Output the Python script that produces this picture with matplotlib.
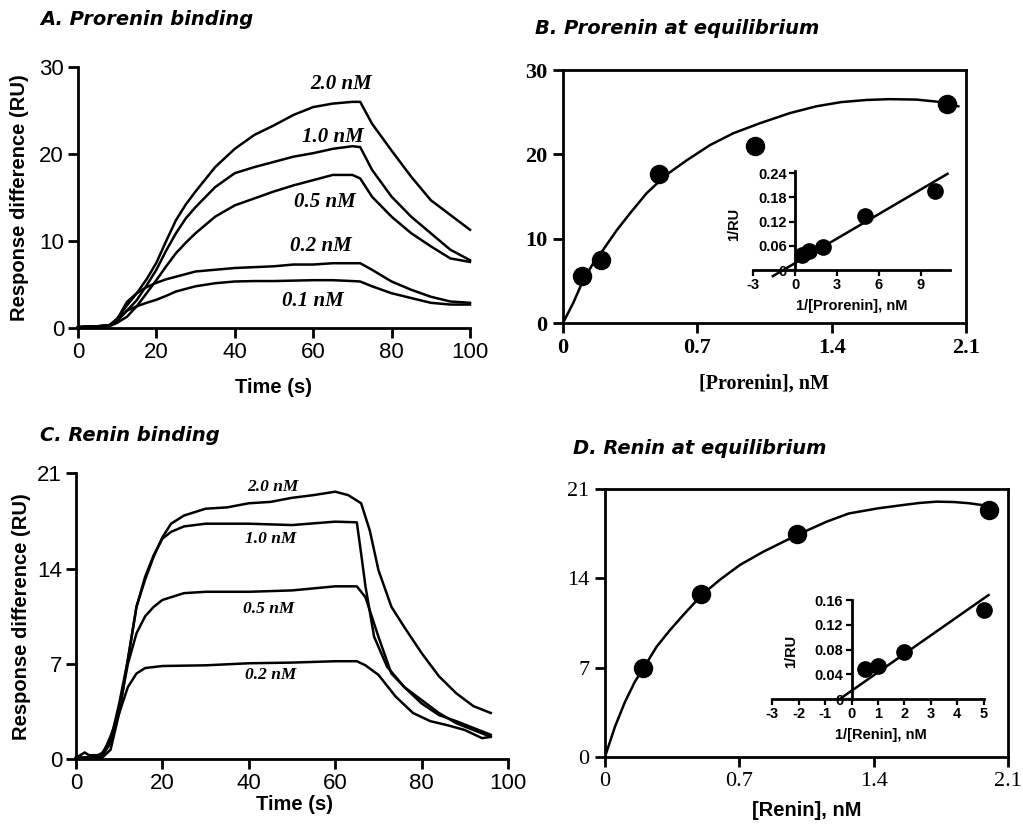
import numpy as np
import matplotlib
matplotlib.use("Agg")
import matplotlib.pyplot as plt

plt.rcParams["axes.unicode_minus"] = False

SANS = "Liberation Sans"
SERIF = "Liberation Serif"
TITLE = "DejaVu Sans"

# ── Panel A: prorenin sensorgrams ─────────────────────────────────
t_a = [0, 5, 8, 10, 12.5, 15, 17.5, 20, 22.5, 25, 27.5, 30, 35, 40, 45, 50,
       55, 60, 65, 70, 72, 75, 80, 85, 90, 95, 100]
pro_20 = [0.1, 0.2, 0.3, 1.1, 2.6, 4.0, 5.6, 7.5, 10.0, 12.4, 14.2, 15.7,
          18.5, 20.6, 22.2, 23.3, 24.5, 25.4, 25.8, 26.0, 26.0, 23.5, 20.4,
          17.4, 14.7, 13.0, 11.3]
pro_10 = [0.1, 0.2, 0.3, 0.8, 2.0, 3.2, 4.9, 6.7, 8.9, 10.9, 12.6, 13.9,
          16.2, 17.8, 18.5, 19.1, 19.7, 20.1, 20.6, 20.9, 20.8, 18.2, 15.1,
          12.8, 10.9, 9.0, 7.8]
pro_05 = [0.1, 0.2, 0.2, 0.6, 1.3, 2.5, 4.0, 5.5, 7.1, 8.6, 9.8, 10.9, 12.8,
          14.1, 14.9, 15.7, 16.4, 17.0, 17.6, 17.6, 17.2, 15.1, 12.8, 10.9,
          9.4, 8.0, 7.6]
pro_02 = [0.1, 0.2, 0.3, 1.0, 3.0, 4.0, 4.7, 5.2, 5.6, 5.9, 6.2, 6.5, 6.7,
          6.9, 7.0, 7.1, 7.3, 7.3, 7.45, 7.45, 7.45, 6.7, 5.35, 4.4, 3.6,
          3.05, 2.9]
pro_01 = [0.1, 0.2, 0.3, 0.9, 2.0, 2.5, 2.9, 3.25, 3.7, 4.2, 4.5, 4.8, 5.15,
          5.35, 5.4, 5.4, 5.45, 5.5, 5.5, 5.4, 5.35, 4.8, 4.0, 3.45, 2.9,
          2.7, 2.7]
pro_curves = [pro_20, pro_10, pro_05, pro_02, pro_01]
pro_labels = ["2.0 nM", "1.0 nM", "0.5 nM", "0.2 nM", "0.1 nM"]
pro_label_xy = [(67, 28.0), (65, 22.0), (63, 14.5), (62, 9.4), (60, 3.1)]

# ── Panel B: prorenin equilibrium ─────────────────────────────────
pro_conc = [0.1, 0.2, 0.5, 1.0, 2.0]
pro_ru = [5.6, 7.5, 17.7, 21.0, 26.0]
pro_fit_x = [0.0, 0.054, 0.106, 0.158, 0.21, 0.28, 0.349, 0.436, 0.54,
             0.645, 0.766, 0.887, 1.027, 1.183, 1.32, 1.45, 1.58, 1.70,
             1.84, 1.95, 2.06]
pro_fit_y = [0.0, 2.4, 5.1, 7.1, 8.7, 11.0, 13.0, 15.4, 17.6, 19.3, 21.1,
             22.5, 23.7, 24.9, 25.7, 26.2, 26.45, 26.55, 26.5, 26.25, 25.7]
pro_inv_x = [0.5, 1.0, 2.0, 5.0, 10.0]
pro_inv_y = [0.038, 0.046, 0.056, 0.133, 0.196]
pro_line_x = [-1.6, 10.9]
pro_line_y = [-0.015, 0.238]

# ── Panel C: renin sensorgrams ────────────────────────────────────
t_c20 = [0, 2, 3, 5, 6, 8, 10, 12, 14, 16, 18, 20, 22, 25, 30, 35, 40, 45,
         50, 55, 60, 63, 66, 68, 70, 73, 76, 80, 84, 88, 92, 96]
ren_20 = [0.1, 0.5, 0.3, 0.3, 0.45, 1.4, 4.1, 7.3, 11.2, 13.2, 14.9, 16.3,
          17.3, 17.9, 18.4, 18.5, 18.8, 18.9, 19.2, 19.4, 19.65, 19.4, 18.8,
          16.8, 13.9, 11.2, 9.7, 7.8, 6.1, 4.85, 3.9, 3.4]
t_c10 = [0, 6, 8, 10, 12, 14, 16, 18, 20, 22, 25, 30, 40, 50, 60, 65, 66,
         67, 69, 72, 76, 80, 84, 88, 92, 96]
ren_10 = [0.1, 0.1, 0.7, 3.4, 7.3, 11.2, 13.4, 15.0, 16.2, 16.7, 17.1, 17.3,
          17.3, 17.2, 17.45, 17.4, 15.1, 12.7, 9.0, 6.8, 5.3, 4.35, 3.4,
          2.65, 2.15, 1.65]
t_c05 = [0, 6, 8, 10, 12, 14, 16, 18, 20, 25, 30, 40, 50, 60, 65, 67, 70,
         73, 76, 80, 84, 88, 92, 96]
ren_05 = [0.1, 0.2, 1.2, 3.6, 7.0, 9.25, 10.5, 11.2, 11.7, 12.2, 12.3, 12.3,
          12.4, 12.7, 12.7, 11.9, 9.0, 6.3, 5.3, 4.1, 3.25, 2.8, 2.3, 1.8]
t_c02 = [0, 6, 8, 10, 12, 14, 16, 20, 30, 40, 50, 60, 65, 67, 70, 74, 78,
         82, 86, 90, 94, 96]
ren_02 = [0.1, 0.2, 1.7, 3.4, 5.3, 6.3, 6.7, 6.85, 6.9, 7.05, 7.1, 7.2, 7.2,
          6.9, 6.2, 4.6, 3.4, 2.8, 2.5, 2.15, 1.55, 1.65]
ren_times = [t_c20, t_c10, t_c05, t_c02]
ren_curves = [ren_20, ren_10, ren_05, ren_02]
ren_labels = ["2.0 nM", "1.0 nM", "0.5 nM", "0.2 nM"]
ren_label_xy = [(45.5, 20.0), (45.0, 16.2), (44.5, 11.0), (45.0, 6.2)]

# ── Panel D: renin equilibrium ────────────────────────────────────
ren_conc = [0.2, 0.5, 1.0, 2.0]
ren_ru = [7.0, 12.8, 17.5, 19.4]
ren_fit_x = [0.0, 0.052, 0.104, 0.156, 0.2, 0.269, 0.339, 0.408, 0.504,
             0.599, 0.703, 0.825, 0.999, 1.155, 1.27, 1.42, 1.555, 1.64,
             1.728, 1.82, 1.90, 1.97, 2.04]
ren_fit_y = [0.0, 2.36, 4.3, 5.9, 6.94, 8.64, 9.95, 11.13, 12.7, 13.9,
             15.06, 16.1, 17.4, 18.46, 19.1, 19.5, 19.77, 19.93, 20.03,
             20.0, 19.9, 19.75, 19.5]
ren_inv_x = [0.5, 1.0, 2.0, 5.0]
ren_inv_y = [0.048, 0.053, 0.076, 0.144]
ren_line_x = [-0.45, 5.18]
ren_line_y = [0.0, 0.168]

fig = plt.figure(figsize=(10.23, 8.33), dpi=100)


def sensor_axes(rect, ymax, yticks):
    ax = fig.add_axes(rect)
    ax.set_xlim(0, 100)
    ax.set_ylim(0, ymax)
    ax.set_xticks([0, 20, 40, 60, 80, 100])
    ax.set_yticks(yticks)
    for s in ["top", "right"]:
        ax.spines[s].set_visible(False)
    for s in ["left", "bottom"]:
        ax.spines[s].set_linewidth(2)
    ax.tick_params(direction="out", length=7, width=2, labelsize=16, pad=3)
    for lab in ax.get_xticklabels() + ax.get_yticklabels():
        lab.set_family(SANS)
    ax.set_xlabel("Time (s)", family=SANS, fontsize=14.5, fontweight="bold")
    ax.set_ylabel("Response difference (RU)", family=SANS, fontsize=14.5,
                  fontweight="bold")
    return ax


def eq_axes(rect, ymax, yticks, bold_ticks):
    ax = fig.add_axes(rect)
    ax.set_xlim(0, 2.1)
    ax.set_ylim(0, ymax)
    ax.set_xticks([0, 0.7, 1.4, 2.1])
    ax.set_xticklabels(["0", "0.7", "1.4", "2.1"])
    ax.set_yticks(yticks)
    for s in ax.spines.values():
        s.set_linewidth(2)
    ax.tick_params(direction="out", length=7, width=2, labelsize=16, pad=4)
    for lab in ax.get_xticklabels() + ax.get_yticklabels():
        lab.set_family(SERIF)
        lab.set_fontweight("bold" if bold_ticks else "normal")
    return ax


def inset_axes(rect, xlim, ylim, xticks, yticks, yticklabels, xlabel, ybound):
    ax = fig.add_axes(rect, facecolor="none")
    ax.set_xlim(*xlim)
    ax.set_ylim(*ylim)
    ax.set_xticks(xticks)
    ax.set_yticks(yticks)
    ax.set_yticklabels(yticklabels)
    for s in ["top", "right"]:
        ax.spines[s].set_visible(False)
    ax.spines["left"].set_position(("data", 0))
    ax.spines["bottom"].set_position(("data", 0))
    ax.spines["left"].set_bounds(0, ybound)
    ax.spines["bottom"].set_bounds(xticks[0], xlim[1] - 0.15)
    for s in ["left", "bottom"]:
        ax.spines[s].set_linewidth(2)
    ax.tick_params(direction="out", length=4, width=1.6, labelsize=10.5, pad=2)
    for lab in ax.get_xticklabels() + ax.get_yticklabels():
        lab.set_family(SANS)
        lab.set_fontweight("bold")
    ax.set_xlabel(xlabel, family=SANS, fontsize=10.5, fontweight="bold",
                  labelpad=5)
    ax.set_ylabel("1/RU", family=SANS, fontsize=10.5, fontweight="bold",
                  labelpad=12)
    return ax


def title(x, y, s):
    fig.text(x, y, s, family=TITLE, style="oblique", fontweight="bold",
             fontsize=14, va="center")


# ── A ──
ax_a = sensor_axes([0.0762, 0.6062, 0.3832, 0.3133], 30, [0, 10, 20, 30])
for y in pro_curves:
    ax_a.plot(t_a, y, color="black", lw=1.8, clip_on=False)
for lab, (x, y) in zip(pro_labels, pro_label_xy):
    ax_a.text(x, y, lab, family=SERIF, style="italic", fontweight="bold",
              fontsize=15, ha="center", va="center")
ax_a.xaxis.set_label_coords(0.50, -0.19)
ax_a.yaxis.set_label_coords(-0.125, 0.5)
title(0.039, 0.976, "A. Prorenin binding")

# ── B ──
ax_b = eq_axes([0.5503, 0.6122, 0.394, 0.3037], 30, [0, 10, 20, 30], True)
ax_b.plot(pro_fit_x, pro_fit_y, color="black", lw=1.8)
ax_b.plot(pro_conc, pro_ru, "o", color="black", ms=13, clip_on=False)
ax_b.set_xlabel("[Prorenin], nM", family=SERIF, fontsize=14.5,
                fontweight="bold")
ax_b.xaxis.set_label_coords(0.5, -0.2)
title(0.523, 0.966, "B. Prorenin at equilibrium")

in_b = inset_axes([0.735, 0.6661, 0.1953, 0.1286], (-3.1, 11.2), (-0.02, 0.245),
                  [-3, 0, 3, 6, 9], [0, 0.06, 0.12, 0.18, 0.24],
                  ["0", "0.06", "0.12", "0.18", "0.24"], "1/[Prorenin], nM",
                  0.245)
in_b.plot(pro_line_x, pro_line_y, color="black", lw=1.8, clip_on=False)
in_b.plot(pro_inv_x, pro_inv_y, "o", color="black", ms=11, clip_on=False)

# ── C ──
ax_c = sensor_axes([0.0743, 0.0885, 0.4223, 0.3433], 21, [0, 7, 14, 21])
for t, y in zip(ren_times, ren_curves):
    ax_c.plot(t, y, color="black", lw=1.8, clip_on=False)
for lab, (x, y) in zip(ren_labels, ren_label_xy):
    ax_c.text(x, y, lab, family=SERIF, style="italic", fontweight="bold",
              fontsize=12.5, ha="center", va="center")
ax_c.xaxis.set_label_coords(0.505, -0.125)
ax_c.yaxis.set_label_coords(-0.105, 0.5)
title(0.039, 0.477, "C. Renin binding")

# ── D ──
ax_d = eq_axes([0.5914, 0.0916, 0.394, 0.321], 21, [0, 7, 14, 21], False)
ax_d.plot(ren_fit_x, ren_fit_y, color="black", lw=1.8)
ax_d.plot(ren_conc, ren_ru, "o", color="black", ms=13, clip_on=False)
ax_d.set_xlabel("[Renin], nM", family=SANS, fontsize=14.5, fontweight="bold")
ax_d.xaxis.set_label_coords(0.5, -0.165)
title(0.56, 0.461, "D. Renin at equilibrium")

in_d = inset_axes([0.7524, 0.1534, 0.217, 0.130], (-3.1, 5.3), (-0.01, 0.165),
                  [-3, -2, -1, 0, 1, 2, 3, 4, 5], [0, 0.04, 0.08, 0.12, 0.16],
                  ["0", "0.04", "0.08", "0.12", "0.16"], "1/[Renin], nM",
                  0.16)
in_d.spines["bottom"].set_bounds(-3, 5)
in_d.plot(ren_line_x, ren_line_y, color="black", lw=1.8, clip_on=False)
in_d.plot(ren_inv_x, ren_inv_y, "o", color="black", ms=11, clip_on=False)

fig.savefig("out.png", dpi=100)
